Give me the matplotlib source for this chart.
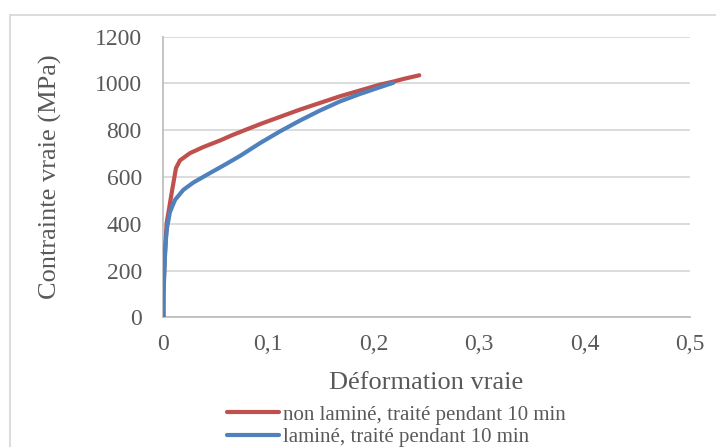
import matplotlib.pyplot as plt
from matplotlib.patches import Rectangle

# True strain / true stress curves
strain_non_lamine = [0.001, 0.0008, 0.002, 0.0038, 0.0085, 0.0126, 0.0164, 0.0259, 0.0385,
                     0.0543, 0.067, 0.0923, 0.130, 0.168, 0.206, 0.2187, 0.228, 0.2433]
stress_non_lamine = [0, 120, 260, 403, 531, 638, 671, 702, 728,
                     756, 781, 826, 888, 945, 995, 1008, 1019, 1035]

strain_lamine = [0.0, 0.001, 0.002, 0.003, 0.0042, 0.0069, 0.0117, 0.0196, 0.029,
                 0.0449, 0.0607, 0.0733, 0.0923, 0.1112, 0.130, 0.149, 0.168, 0.187,
                 0.206, 0.2187]
stress_lamine = [0, 120, 245, 330, 385, 450, 502, 545, 576,
                 617, 657, 690, 745, 795, 841, 884, 923, 955,
                 984, 1003]

x_ticks = [0, 0.1, 0.2, 0.3, 0.4, 0.5]
x_tick_labels = ["0", "0,1", "0,2", "0,3", "0,4", "0,5"]
y_ticks = [0, 200, 400, 600, 800, 1000, 1200]

label_non_lamine = "non laminé, traité pendant 10 min"
label_lamine = "laminé, traité pendant 10 min"

plt.rcParams['font.family'] = ['Liberation Serif', 'DejaVu Serif']
text_color = '#595959'

fig = plt.figure(figsize=(7.16, 4.47), dpi=100)
ax = fig.add_axes([0.2272, 0.2902, 0.7365, 0.6277])

# chart area border (left/top visible in the reference)
fig.patches.append(Rectangle((10 / 716, -0.1), 2, 0.9664 + 0.1, transform=fig.transFigure,
                             fill=False, edgecolor='#d9d9d9', linewidth=1.3))

ax.plot(strain_non_lamine, stress_non_lamine, color='#C0504D', lw=3, solid_capstyle='round',
        label=label_non_lamine, zorder=3)
ax.plot(strain_lamine, stress_lamine, color='#4F81BD', lw=3, solid_capstyle='round',
        label=label_lamine, zorder=4)

ax.set_xlim(0, 0.5)
ax.set_ylim(0, 1200)
ax.set_xticks(x_ticks)
ax.set_xticklabels(x_tick_labels)
ax.set_yticks(y_ticks)
ax.tick_params(length=0, labelsize=17, colors=text_color)
ax.tick_params(axis='y', pad=15)
ax.tick_params(axis='x', pad=12)

ax.grid(axis='y', color='#d9d9d9', lw=1.3)
ax.set_axisbelow(True)
for side in ['top', 'right']:
    ax.spines[side].set_visible(False)
for side in ['left', 'bottom']:
    ax.spines[side].set_color('#bfbfbf')
    ax.spines[side].set_linewidth(1.3)

ax.set_xlabel("Déformation vraie", fontsize=19, color=text_color)
ax.xaxis.label.set_va('center')
ax.xaxis.set_label_coords(0.5, -0.234)
ax.set_ylabel("Contrainte vraie (MPa)", fontsize=19, color=text_color)
ax.yaxis.label.set_va('center')
ax.yaxis.set_label_coords(-0.212, 0.5)

leg = fig.legend(loc='upper left', bbox_to_anchor=(227 / 716, 1 - 405 / 447), frameon=False,
                 fontsize=15, handlelength=2.5, handletextpad=0.2, labelspacing=0.15,
                 borderpad=0, borderaxespad=0)
for t in leg.get_texts():
    t.set_color(text_color)

fig.savefig('out.png', dpi=100)
